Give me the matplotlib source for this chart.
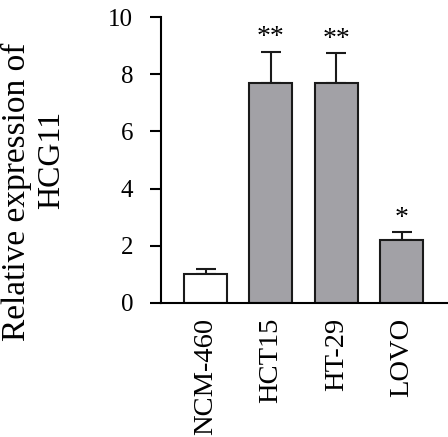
import matplotlib.pyplot as plt
import numpy as np

# 数据
cells = ['NCM-460', 'HCT15', 'HT-29', 'LOVO']
expr = [1.0, 7.68, 7.68, 2.2]
err = [0.18, 1.1, 1.05, 0.28]
stars = ['', '**', '**', '*']
colors = ['white', '#a2a1a6', '#a2a1a6', '#a2a1a6']

plt.rcParams['font.family'] = ['Liberation Serif', 'DejaVu Serif']

fig = plt.figure(figsize=(4.48, 4.37), dpi=100)
ax = fig.add_axes([0.359, 0.307, 0.641, 0.654])

x = np.arange(len(cells))
ax.bar(x, expr, width=0.66, color=colors, edgecolor='#1a1a1a', linewidth=1.5, zorder=2)
ax.errorbar(x, expr, yerr=[np.zeros(len(err)), err], fmt='none', ecolor='#1a1a1a',
            elinewidth=1.5, capsize=7.5, capthick=1.5, zorder=1)

# 显著性标记
for i, s in enumerate(stars):
    if s:
        ax.text(x[i], expr[i] + err[i] + 0.05, s, ha='center', va='bottom', fontsize=20)

ax.set_xlim(-0.685, 3.71)
ax.set_ylim(0, 10)
ax.set_yticks([0, 2, 4, 6, 8, 10])
ax.set_xticks(x)
ax.set_xticklabels(cells, rotation=90, fontsize=20.5)
ax.tick_params(axis='x', length=0, pad=11)
ax.tick_params(axis='y', length=8, width=1.5, pad=12, labelsize=18)

ax.spines['top'].set_visible(False)
ax.spines['right'].set_visible(False)
ax.spines['left'].set_linewidth(1.5)
ax.spines['bottom'].set_linewidth(1.5)

# y轴标题（两行）
fig.text(16 / 448, 1 - 192 / 437, 'Relative expression of', rotation=90, ha='center', va='center', fontsize=24)
fig.text(52 / 448, 1 - 160 / 437, 'HCG11', rotation=90, ha='center', va='center', fontsize=23)

fig.savefig('out.png', dpi=100)
